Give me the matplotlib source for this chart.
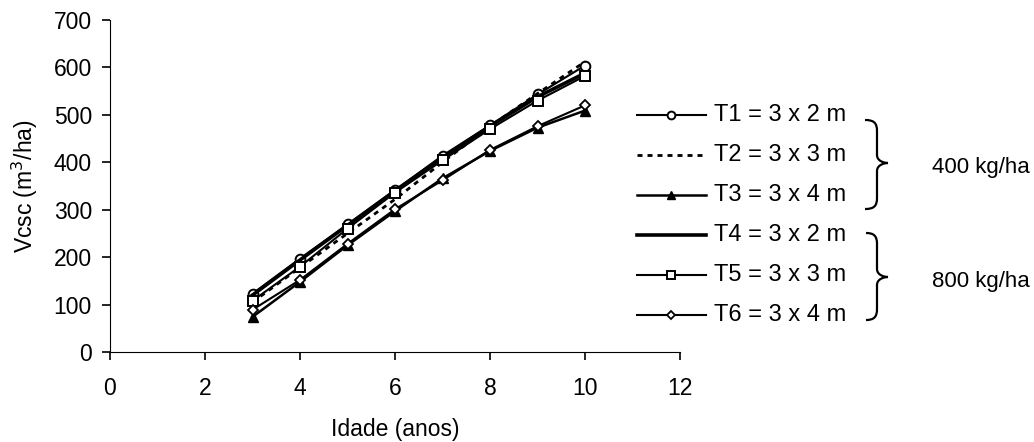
import matplotlib
matplotlib.use("Agg")
import matplotlib.pyplot as plt
from matplotlib.path import Path
from matplotlib.patches import PathPatch
from matplotlib.lines import Line2D

plt.rcParams['font.family'] = ['Liberation Sans', 'DejaVu Sans']
plt.rcParams['font.size'] = 16.5

idade = [3, 4, 5, 6, 7, 8, 9, 10]
t1 = [123, 197, 269, 341, 414, 478, 543, 604]
t2 = [105, 178, 250, 322, 400, 476, 545, 612]
t3 = [74, 148, 225, 297, 366, 424, 473, 509]
t4 = [120, 194, 267, 340, 410, 476, 538, 588]
t5 = [108, 180, 260, 336, 404, 470, 530, 582]
t6 = [89, 152, 228, 301, 362, 426, 476, 520]
labels = ['T1 = 3 x 2 m', 'T2 = 3 x 3 m', 'T3 = 3 x 4 m',
          'T4 = 3 x 2 m', 'T5 = 3 x 3 m', 'T6 = 3 x 4 m']
groups = ['400 kg/ha', '800 kg/ha']

W, H = 1034, 442
fig = plt.figure(figsize=(W/100, H/100), dpi=100)
ax = fig.add_axes([110/W, (H-352)/H, 570/W, 332/H])

styles = [
    dict(color='k', lw=1.5, marker='o', mfc='white', mec='k', ms=7, mew=1.4),
    dict(color='k', lw=2.0, ls=(0, (1.8, 1.8)), marker=None),
    dict(color='k', lw=1.8, marker='^', mfc='k', mec='k', ms=7.5),
    dict(color='k', lw=2.6, marker=None),
    dict(color='k', lw=1.5, marker='s', mfc='white', mec='k', ms=7, mew=1.4),
    dict(color='k', lw=1.5, marker='D', mfc='white', mec='k', ms=5, mew=1.3),
]
series = [t1, t2, t3, t4, t5, t6]
for s, st in zip(series, styles):
    ax.plot(idade, s, **st)

ax.set_xlim(0, 12)
ax.set_ylim(0, 700)
ax.set_xticks(range(0, 13, 2))
ax.set_yticks(range(0, 701, 100))
ax.spines['top'].set_visible(False)
ax.spines['right'].set_visible(False)
ax.tick_params(direction='out', length=6, width=1.2, labelsize=16.5)
ax.tick_params(axis='x', pad=12)
ax.tick_params(axis='y', pad=7)
ax.set_xlabel('Idade (anos)', fontsize=16.5, labelpad=13)
ax.set_ylabel('Vcsc (m$^{3}$/ha)', fontsize=16.5, labelpad=10)

# legend drawn manually in pixel coords
rows = [115, 155, 195, 235, 275, 315]
for y, st, lab in zip(rows, styles, labels):
    yf = (H - y) / H
    kw = dict(st)
    m = kw.pop('marker', None)
    ln = Line2D([637/W, 706/W], [yf, yf], transform=fig.transFigure,
                color=kw['color'], lw=kw['lw'], ls=kw.get('ls', '-'))
    fig.add_artist(ln)
    if m:
        mk = Line2D([671/W], [yf], transform=fig.transFigure, marker=m,
                    mfc=kw['mfc'], mec=kw['mec'], ms=kw['ms']*0.8,
                    mew=kw.get('mew', 1), ls='none')
        fig.add_artist(mk)
    fig.text(714/W, yf, lab, fontsize=17, va='center', ha='left')


def brace(xe, xv, xt, ytop, ybot, ymid):
    pts = [(xe, ytop),
           (xv - 3, ytop), (xv, ytop + 3), (xv, ytop + 11),
           (xv, ymid - 8),
           (xv, ymid - 2), (xt - 4, ymid), (xt, ymid),
           (xt - 4, ymid), (xv, ymid + 2), (xv, ymid + 8),
           (xv, ybot - 11),
           (xv, ybot - 3), (xv - 3, ybot), (xe, ybot)]
    codes = [Path.MOVETO,
             Path.CURVE4, Path.CURVE4, Path.CURVE4,
             Path.LINETO,
             Path.CURVE4, Path.CURVE4, Path.CURVE4,
             Path.CURVE4, Path.CURVE4, Path.CURVE4,
             Path.LINETO,
             Path.CURVE4, Path.CURVE4, Path.CURVE4]
    verts = [(x / W, (H - y) / H) for x, y in pts]
    p = PathPatch(Path(verts, codes), transform=fig.transFigure,
                  fill=False, lw=1.6, ec='k', capstyle='butt')
    fig.add_artist(p)


brace(865, 877, 888, 120, 209, 163)
brace(866, 877, 888, 233, 320, 277)
fig.text(932/W, (H-168)/H, groups[0], fontsize=16, va='center', ha='left')
fig.text(932/W, (H-281)/H, groups[1], fontsize=16, va='center', ha='left')

fig.savefig('out.png', dpi=100)
